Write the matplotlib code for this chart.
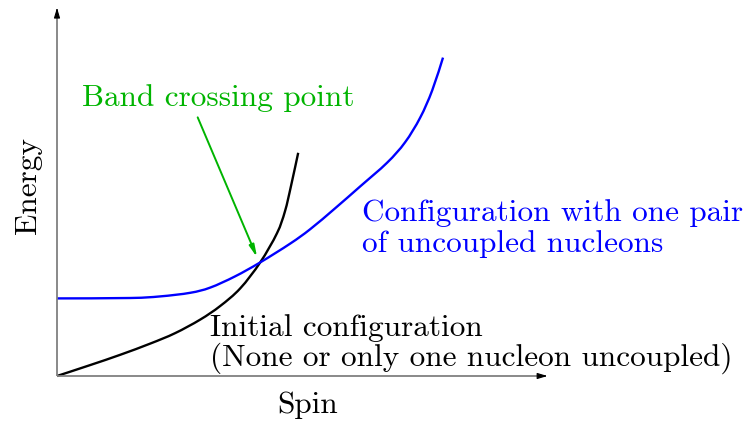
import matplotlib
matplotlib.use("Agg")
import matplotlib.pyplot as plt
import numpy as np
from matplotlib.path import Path
from matplotlib.patches import PathPatch

plt.rcParams['font.family'] = 'cmr10'
plt.rcParams['mathtext.fontset'] = 'cm'
plt.rcParams['axes.unicode_minus'] = False

# energy vs spin for the two bands (arbitrary units)
spin_ground = [0, 0.82, 1.58, 2.33, 2.95, 3.58, 4.08, 4.58, 5.08, 5.5, 5.7, 5.85, 6.03]
energy_ground = [0, 0.27, 0.53, 0.81, 1.07, 1.41, 1.75, 2.19, 2.84, 3.57, 4.12, 4.75, 5.58]

spin_pair = [0, 1.83, 2.58, 3.33, 3.83, 4.45, 5.08, 5.83, 6.33, 6.95, 7.58, 8.25,
             8.7, 9.08, 9.38, 9.65]
energy_pair = [1.94, 1.95, 1.99, 2.08, 2.21, 2.49, 2.84, 3.31, 3.67, 4.19, 4.74, 5.33,
               5.84, 6.46, 7.14, 7.96]

crossing = (5.03, 2.9)

green = '#00b400'
fs = 22.5


def smooth_curve(xs, ys):
    # Catmull-Rom through the points, as cubic Bezier segments
    p = np.column_stack([xs, ys])
    n = len(p)
    verts = [p[0]]
    codes = [Path.MOVETO]
    for i in range(n - 1):
        p0 = p[max(i - 1, 0)]
        p1 = p[i]
        p2 = p[i + 1]
        p3 = p[min(i + 2, n - 1)]
        verts += [p1 + (p2 - p0) / 6, p2 - (p3 - p1) / 6, p2]
        codes += [Path.CURVE4] * 3
    return Path(verts, codes)


fig = plt.figure(figsize=(7.43, 4.21), dpi=100)
ax = fig.add_axes([0, 0, 1, 1])
ax.set_xlim(-1.425, 17.15)
ax.set_ylim(-1.125, 9.4)
ax.axis('off')

# axes with arrow heads
x_end, y_end = 12.33, 9.275
ax.plot([0, x_end - 0.1], [0, 0], color='#808080', lw=1.3, solid_capstyle='butt')
ax.plot([0, 0], [0, y_end - 0.1], color='#808080', lw=1.3, solid_capstyle='butt')
ax.annotate('', xy=(x_end, 0), xytext=(x_end - 0.3, 0),
            arrowprops=dict(arrowstyle='-|>,head_length=0.6,head_width=0.18', color='black', lw=0.8))
ax.annotate('', xy=(0, y_end), xytext=(0, y_end - 0.3),
            arrowprops=dict(arrowstyle='-|>,head_length=0.6,head_width=0.18', color='black', lw=0.8))

ax.add_patch(PathPatch(smooth_curve(spin_ground, energy_ground), fill=False,
                       edgecolor='black', lw=1.7, capstyle='butt'))
ax.add_patch(PathPatch(smooth_curve(spin_pair, energy_pair), fill=False,
                       edgecolor='blue', lw=1.7, capstyle='butt'))

# arrow to the band crossing
ax.annotate('', xy=crossing, xytext=(3.49, 6.53),
            arrowprops=dict(arrowstyle='-|>,head_length=0.7,head_width=0.15', color=green, lw=1.4))
ax.text(0.625, 6.95, 'Band crossing point', color=green, fontsize=fs, va='center', ha='left')

ax.text(7.625, 4.075, 'Configuration with one pair', color='blue', fontsize=fs, va='center', ha='left')
ax.text(7.625, 3.3, 'of uncoupled nucleons', color='blue', fontsize=fs, va='center', ha='left')

ax.text(3.825, 1.2, 'Initial configuration', color='black', fontsize=fs, va='center', ha='left')
ax.text(3.825, 0.45, '(None or only one nucleon uncoupled)', color='black', fontsize=fs, va='center', ha='left')

ax.text(6.275, -0.725, 'Spin', fontsize=fs, va='center', ha='center')
ax.text(-0.725, 4.775, 'Energy', fontsize=fs, va='center', ha='center', rotation=90)

fig.savefig('out.png', dpi=100)
